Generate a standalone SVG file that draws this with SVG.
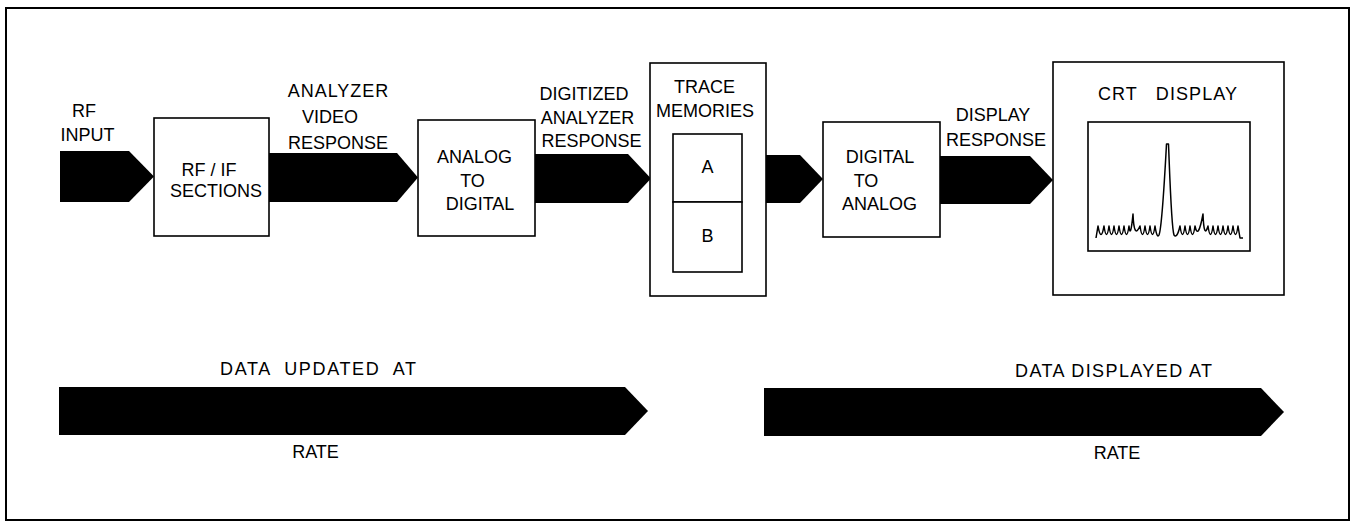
<svg xmlns="http://www.w3.org/2000/svg" width="1356" height="522" viewBox="0 0 1356 522">
<style>
  .bg { fill: #ffffff; }
  .frame { fill: none; stroke: #000; stroke-width: 2; }
  .box { fill: #ffffff; stroke: #000; stroke-width: 1.6; }
  .arrow { fill: #000; stroke: none; }
  .t { font-family: "Liberation Sans", Arial, sans-serif; font-size: 18px; fill: #000; text-anchor: middle; }
  .ts { font-family: "Liberation Sans", Arial, sans-serif; font-size: 18px; fill: #000; white-space: pre; }
  .trace { fill: none; stroke: #000; stroke-width: 1.5; stroke-linejoin: round; }
</style>
<rect class="bg" x="0" y="0" width="1356" height="522"/>
<rect class="frame" x="6" y="8" width="1343" height="512"/>

<g id="connectors">
  <path class="arrow" d="M60,151 L129,151 L154,176.5 L129,202 L60,202 Z"/>
  <path class="arrow" d="M269,153 L397,153 L418,177.5 L397,202 L269,202 Z"/>
  <path class="arrow" d="M535,154 L628,154 L651,178.5 L628,203 L535,203 Z"/>
  <path class="arrow" d="M766,155 L800,155 L823,179 L800,203 L766,203 Z"/>
  <path class="arrow" d="M940,156 L1030,156 L1053,180 L1030,204 L940,204 Z"/>
  <path class="arrow" d="M59,387 L625,387 L648,411 L625,435 L59,435 Z"/>
  <path class="arrow" d="M764,388 L1261,388 L1284,412 L1261,436 L764,436 Z"/>
</g>

<g id="labels">
  <text class="t" x="84" y="117">RF</text>
  <text class="t" x="87.5" y="141">INPUT</text>
  <text class="t" x="338.5" y="97" letter-spacing="1">ANALYZER</text>
  <text class="t" x="330" y="123">VIDEO</text>
  <text class="t" x="338" y="149">RESPONSE</text>
  <text class="t" x="584" y="100">DIGITIZED</text>
  <text class="t" x="587.5" y="124">ANALYZER</text>
  <text class="t" x="591.5" y="147">RESPONSE</text>
  <text class="t" x="993" y="121">DISPLAY</text>
  <text class="t" x="996" y="146">RESPONSE</text>
  <text class="ts" x="220" y="375" textLength="196" lengthAdjust="spacing">DATA  UPDATED  AT</text>
  <text class="t" x="315.5" y="458">RATE</text>
  <text class="ts" x="1015" y="377" textLength="197" lengthAdjust="spacing">DATA DISPLAYED AT</text>
  <text class="t" x="1117" y="459">RATE</text>
</g>

<g id="rf-if-sections">
  <rect class="box" x="154" y="118" width="115" height="118"/>
  <text class="t" x="209" y="176">RF / IF</text>
  <text class="t" x="216" y="197">SECTIONS</text>
</g>

<g id="analog-to-digital">
  <rect class="box" x="418" y="120" width="117" height="116"/>
  <text class="t" x="474.5" y="163">ANALOG</text>
  <text class="t" x="472.5" y="187">TO</text>
  <text class="t" x="480" y="210">DIGITAL</text>
</g>

<g id="trace-memories">
  <rect class="box" x="650" y="63" width="116" height="233"/>
  <text class="t" x="704.5" y="93">TRACE</text>
  <text class="t" x="705" y="117">MEMORIES</text>
  <g id="memory-a">
    <rect class="box" x="673" y="134" width="69" height="68"/>
    <text class="t" x="707.5" y="173">A</text>
  </g>
  <g id="memory-b">
    <rect class="box" x="673" y="202" width="69" height="70"/>
    <text class="t" x="707.5" y="242">B</text>
  </g>
</g>

<g id="digital-to-analog">
  <rect class="box" x="823" y="122" width="117" height="115"/>
  <text class="t" x="880" y="163">DIGITAL</text>
  <text class="t" x="866" y="187">TO</text>
  <text class="t" x="879.5" y="210">ANALOG</text>
</g>

<g id="crt-display">
  <rect class="box" x="1053" y="62" width="231" height="233"/>
  <text class="ts" x="1098" y="100" textLength="139" lengthAdjust="spacing">CRT   DISPLAY</text>
  <rect class="box" x="1088" y="122" width="162" height="129"/>
  <path class="trace" d="M1096,238
    L1098,226 Q1101,243 1104,226 Q1106.5,243 1109,226 Q1111.5,243 1114,226 Q1116.5,243 1119,226 Q1121.5,243 1124,226 Q1126.5,243 1129,226 Q1130.5,240 1133,214 Q1134,240 1140,226 Q1142.5,243 1145,226 Q1147.5,243 1150,226 Q1152.5,243 1155,226
    Q1157,239 1159,235 C1162,228 1164,190 1166.5,144 L1168.5,144 C1170.5,195 1171.5,228 1174,235
    Q1177,239 1180,226 Q1182.5,243 1185,226 Q1187.5,243 1190,226 Q1192.5,243 1195,226 Q1198,241 1203,214 Q1204,240 1208,226 Q1210.5,243 1213,226 Q1215.5,243 1218,226 Q1220.5,243 1223,226 Q1225.5,243 1228,226 Q1230.5,243 1233,226 Q1235.5,243 1238,226 L1240,238 L1243,238"/>
</g>
</svg>
